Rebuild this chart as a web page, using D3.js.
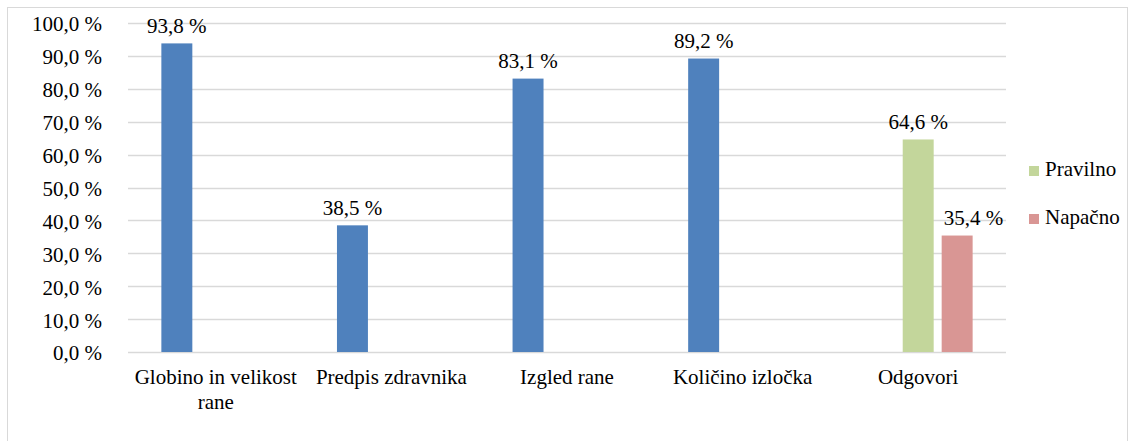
<!DOCTYPE html>
<html>
<head>
  <meta charset="UTF-8">
  <style>
    body { margin: 0; background: #fff; }
  </style>
</head>
<body>
  <script src="https://cdn.jsdelivr.net/npm/d3@7"></script>
  <script>
    const categories = ['Globino in velikost rane', 'Predpis zdravnika', 'Izgled rane', 'Količino izločka', 'Odgovori'];
    const seriesNames = ['Odgovor', 'Pravilno', 'Napačno'];
    const blueValues = [93.8, 38.5, 83.1, 89.2, null];
    const pravilnoValues = [null, null, null, null, 64.6];
    const napacnoValues = [null, null, null, null, 35.4];
    const yTicks = [0, 10, 20, 30, 40, 50, 60, 70, 80, 90, 100];
    const legendNames = ['Pravilno', 'Napačno'];

    const colors = {'Odgovor': '#4F81BD', 'Pravilno': '#C3D69B', 'Napačno': '#D99694'};
    const seriesValues = [blueValues, pravilnoValues, napacnoValues];

    const width = 1131, height = 441;
    const plot = {left: 128, right: 1006, top: 23, bottom: 352};
    const fontSize = 21;
    const fontFamily = 'Liberation Serif';

    const locale = d3.formatLocale({decimal: ',', thousands: '.', grouping: [3], currency: ['', '']});
    const fmt = locale.format('.1f');
    const pct = v => fmt(v) + ' %';

    const svg = d3.select('body').append('svg')
      .attr('width', width)
      .attr('height', height);

    function label(sel) {
      return sel.attr('font-family', fontFamily)
        .attr('font-size', fontSize)
        .attr('fill', '#000');
    }

    // chart border
    svg.append('rect')
      .attr('x', 7.5).attr('y', 7.5)
      .attr('width', width - 11).attr('height', height)
      .attr('fill', 'none')
      .attr('stroke', '#d9d9d9');

    const x0 = d3.scaleBand().domain(categories)
      .range([plot.left, plot.right])
      .paddingInner(0.38).paddingOuter(0.19);
    const x1 = d3.scaleBand().domain(seriesNames)
      .range([0, x0.bandwidth()])
      .paddingInner(0.205).paddingOuter(0);
    const y = d3.scaleLinear().domain([0, 100]).range([plot.bottom, plot.top]);

    // gridlines
    svg.append('g').selectAll('line').data(yTicks).enter().append('line')
      .attr('x1', plot.left).attr('x2', plot.right)
      .attr('y1', d => Math.round(y(d)) + 0.5).attr('y2', d => Math.round(y(d)) + 0.5)
      .attr('stroke', '#d9d9d9').attr('stroke-width', 1.3);

    // y axis labels
    svg.append('g').selectAll('text').data(yTicks).enter().append('text')
      .call(label)
      .attr('x', 102)
      .attr('y', d => y(d))
      .attr('dy', '0.4em')
      .attr('text-anchor', 'end')
      .text(d => pct(d));

    // bars
    const rows = [];
    categories.forEach((c, i) => {
      seriesNames.forEach((s, j) => {
        const v = seriesValues[j][i];
        if (v != null) rows.push({cat: c, series: s, value: v, prev: j > 0 ? seriesValues[j - 1][i] : null});
      });
    });

    const bars = svg.append('g');
    bars.selectAll('rect').data(rows).enter().append('rect')
      .attr('x', d => x0(d.cat) + x1(d.series))
      .attr('y', d => y(d.value))
      .attr('width', x1.bandwidth())
      .attr('height', d => y(0) - y(d.value))
      .attr('fill', d => colors[d.series]);

    // value labels; nudge right when they would sit over a taller bar to the left
    bars.selectAll('text').data(rows).enter().append('text')
      .call(label)
      .attr('x', d => x0(d.cat) + x1(d.series) + x1.bandwidth() / 2)
      .attr('y', d => y(d.value) - 10.5)
      .attr('text-anchor', 'middle')
      .text(d => pct(d.value))
      .each(function(d) {
        if (d.prev == null || d.prev < d.value) return;
        const w = this.getComputedTextLength();
        const prevRight = x0(d.cat) + x1(seriesNames[seriesNames.indexOf(d.series) - 1]) + x1.bandwidth();
        const cx = +this.getAttribute('x');
        if (cx - w / 2 < prevRight + 10) d3.select(this).attr('x', prevRight + 10 + w / 2);
      });

    // category labels, wrapped to band step
    const catG = svg.append('g');
    categories.forEach(c => {
      const cx = x0(c) + x0.bandwidth() / 2;
      const t = catG.append('text')
        .call(label)
        .attr('x', cx)
        .attr('y', plot.bottom + 32)
        .attr('text-anchor', 'middle');
      const words = c.split(' ');
      let line = [];
      let tspan = t.append('tspan').attr('x', cx).attr('dy', 0);
      words.forEach(w => {
        line.push(w);
        tspan.text(line.join(' '));
        if (tspan.node().getComputedTextLength() > x0.step() - 4 && line.length > 1) {
          line.pop();
          tspan.text(line.join(' '));
          line = [w];
          tspan = t.append('tspan').attr('x', cx).attr('dy', 25).text(w);
        }
      });
    });

    // legend
    const legend = svg.append('g').selectAll('g').data(legendNames).enter().append('g')
      .attr('transform', (d, i) => `translate(1029, ${166 + i * 48})`);
    legend.append('rect')
      .attr('width', 10).attr('height', 10)
      .attr('fill', d => colors[d]);
    legend.append('text')
      .call(label)
      .attr('x', 16).attr('y', 10)
      .text(d => d);
  </script>
</body>
</html>
